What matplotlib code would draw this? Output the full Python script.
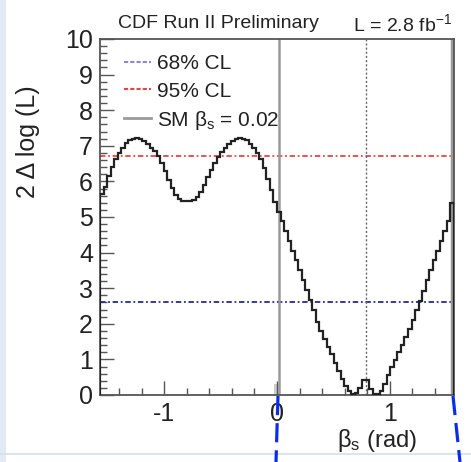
import numpy as np
import matplotlib
matplotlib.use("Agg")
import matplotlib.pyplot as plt
from matplotlib.lines import Line2D
from matplotlib.ticker import MultipleLocator

plt.rcParams['font.family'] = ['Liberation Sans', 'DejaVu Sans']
plt.rcParams['mathtext.fontset'] = 'custom'
plt.rcParams['mathtext.rm'] = 'Liberation Sans'
plt.rcParams['mathtext.it'] = 'Liberation Sans:italic'

# profile likelihood scan, 100 bins over [-pi/2, pi/2]
n_bins = 100
beta_lo, beta_hi = -np.pi / 2, np.pi / 2
dlogl = [
    5.65, 5.85, 6.15, 6.40, 6.62, 6.80, 6.95, 7.07, 7.15, 7.20,
    7.22, 7.19, 7.13, 7.05, 6.95, 6.84, 6.70, 6.52, 6.28, 6.05,
    5.82, 5.63, 5.50, 5.45, 5.45, 5.45, 5.47, 5.55, 5.70, 5.90,
    6.12, 6.33, 6.52, 6.68, 6.82, 6.95, 7.05, 7.13, 7.19, 7.22,
    7.20, 7.15, 7.06, 6.95, 6.80, 6.62, 6.38, 6.08, 5.75, 5.42,
    5.15, 4.90, 4.60, 4.32, 4.05, 3.78, 3.52, 3.22, 2.95, 2.68,
    2.38, 2.05, 1.80, 1.58, 1.36, 1.14, 0.90, 0.68, 0.45, 0.25,
    0.10, 0.03, 0.05, 0.20, 0.42, 0.42, 0.18, 0.04, 0.03, 0.12,
    0.30, 0.55, 0.78, 0.98, 1.20, 1.40, 1.62, 1.85, 2.10, 2.38,
    2.65, 2.92, 3.22, 3.50, 3.78, 4.05, 4.32, 4.62, 4.90, 5.40,
]
cl68 = 2.6
cl95 = 6.7
sm_beta = 0.02
sym_beta = np.pi / 4

edges = np.linspace(beta_lo, beta_hi, n_bins + 1)

fig = plt.figure(figsize=(4.71, 4.62), dpi=100)
ax = fig.add_axes([100 / 471, 1 - 395 / 462, 354 / 471, 356 / 462])

blue = '#2a2a8a'
red = '#e04848'
grey = '#9a9a9a'

ax.axhline(cl68, color=blue, lw=1.3, ls=(0, (3, 1.5, 1, 1.5)), zorder=2)
ax.axhline(cl95, color=red, lw=1.3, ls=(0, (3, 1.5, 1, 1.5)), zorder=2)
ax.axvline(sym_beta, color='#666666', lw=1.0, ls=(0, (1.5, 1.5)), zorder=2)
ax.axvline(sm_beta, color=grey, lw=1.8, zorder=2)
ax.axvline(np.pi / 2 - sm_beta, color=grey, lw=2.5, zorder=2)
ax.bar(0.0, 0.3, width=0.045, color='#cccccc', zorder=1)

ax.stairs(dlogl, edges, color='#222222', lw=1.6, zorder=3)

ax.set_xlim(beta_lo, beta_hi)
ax.set_ylim(0, 10)
ax.xaxis.set_major_locator(MultipleLocator(1))
ax.xaxis.set_minor_locator(MultipleLocator(0.2))
ax.yaxis.set_major_locator(MultipleLocator(1))
ax.yaxis.set_minor_locator(MultipleLocator(0.2))
ax.tick_params(which='both', direction='in', color='#555555', width=1.0,
               labelsize=18, top=False, right=False, labelcolor='#222222')
ax.tick_params(which='major', length=10, pad=5)
ax.tick_params(which='minor', length=5)
ax.set_xticks([-1, 0, 1])
ax.set_xticklabels(['-1', '0', '1'])
for s in ax.spines.values():
    s.set_color('#555555')
    s.set_linewidth(1.3)

handles = [
    Line2D([], [], color='#8a8ad0', lw=1.5, ls=(0, (2, 1))),
    Line2D([], [], color=red, lw=1.5, ls=(0, (2, 1))),
    Line2D([], [], color=grey, lw=2.0),
]
labels = ['68% CL', '95% CL', 'SM β$_\\mathrm{s}$ = 0.02']
ax.legend(handles, labels, loc='upper left', bbox_to_anchor=(0.045, 0.98),
          frameon=False, fontsize=15, handlelength=1.3, handletextpad=0.25,
          labelspacing=0.39, borderaxespad=0, labelcolor='#222222')

fig.text(118 / 471, 1 - 24 / 462, 'CDF Run II Preliminary', fontsize=14,
         ha='left', va='center', color='#222222')
fig.text(452 / 471, 1 - 24 / 462, 'L = 2.8 fb$^{-1}$', fontsize=14,
         ha='right', va='center', color='#222222')
fig.text(28 / 471, 1 - 142 / 462, '2 Δ log (L)', fontsize=18, rotation=90,
         ha='center', va='center', color='#222222')
fig.text(417 / 471, 1 - 441 / 462, 'β$_\\mathrm{s}$ (rad)', fontsize=17,
         ha='right', va='center', color='#222222')

# slide edge and blue dashed guide lines below the frame
fig.patches.append(plt.Rectangle((0, 0), 5 / 471, 1, transform=fig.transFigure,
                                 color='#e2ebf5', zorder=0))
fig.lines.append(Line2D([0, 1], [1 - 454 / 462] * 2, transform=fig.transFigure,
                        color='#d5dfea', lw=1.2))
for x0, x1 in [(278, 276), (453, 460)]:
    fig.lines.append(Line2D([x0 / 471, x1 / 471], [1 - 396 / 462, 0],
                            transform=fig.transFigure, color='#0a2ee8',
                            lw=2.3, ls=(0, (6, 2.5))))

fig.savefig('out.png', dpi=100)
